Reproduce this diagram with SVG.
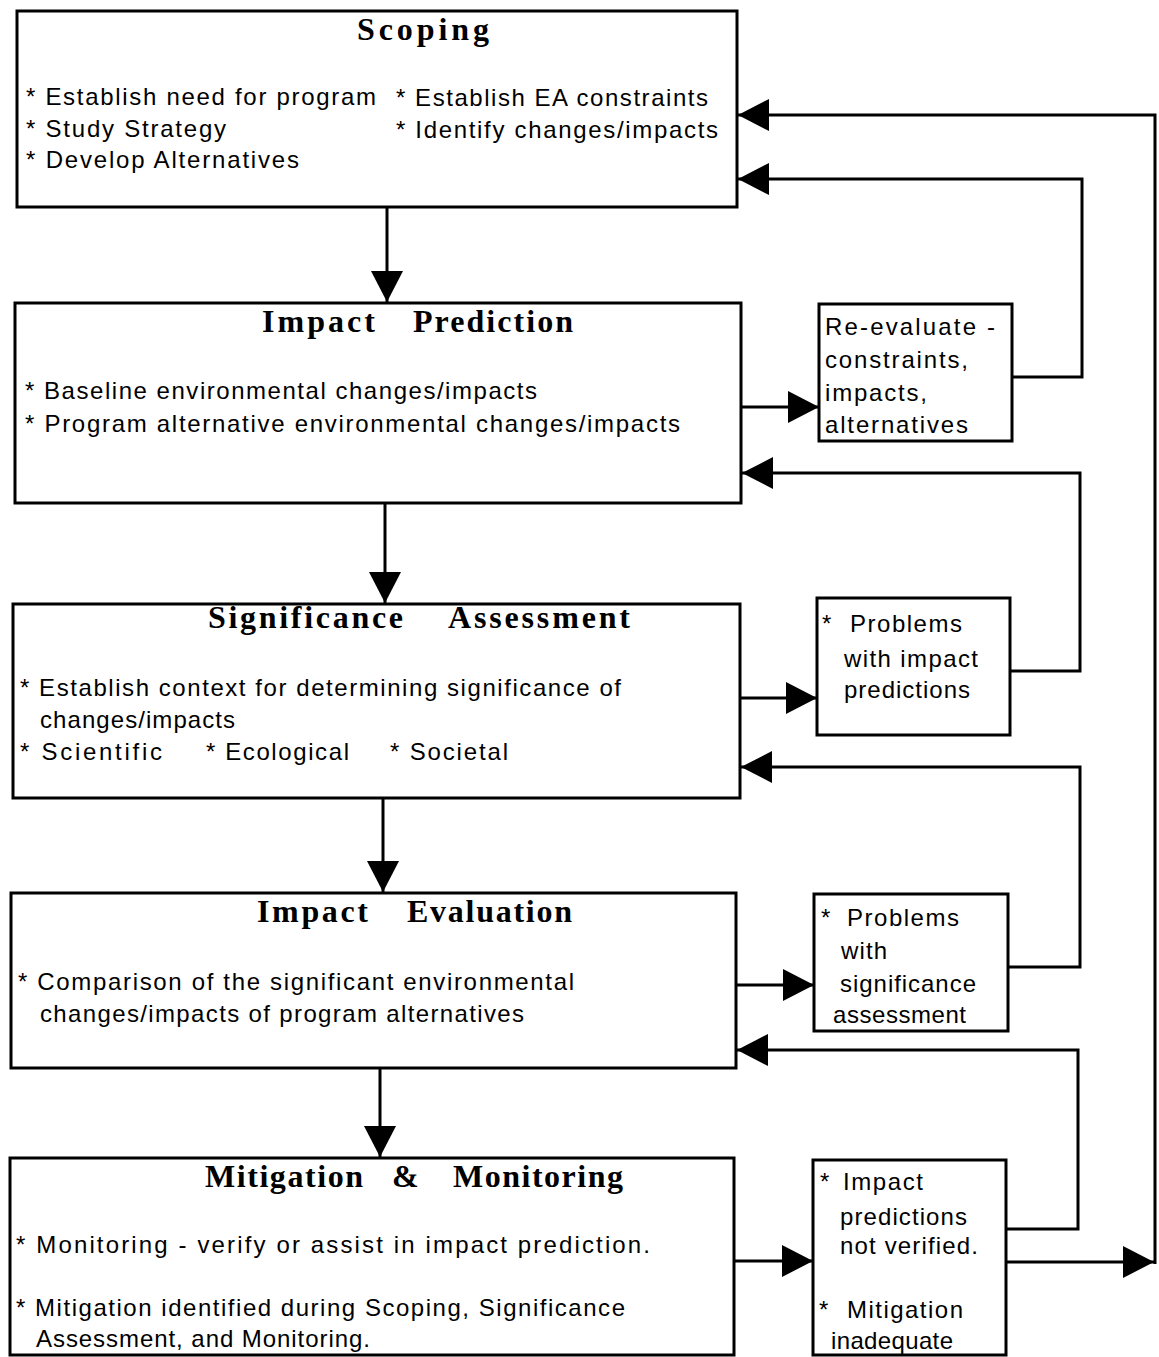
<svg xmlns="http://www.w3.org/2000/svg" width="1159" height="1357" viewBox="0 0 1159 1357">
<style>
.box{fill:#fff;stroke:#000;stroke-width:3}
.t{font-family:"Liberation Serif","Times New Roman",serif;font-weight:bold;font-size:32px;fill:#000}
.b{font-family:"Liberation Sans",Arial,sans-serif;font-size:24px;fill:#000}
.c{fill:none;stroke:#000;stroke-width:3}
</style>
<defs>
<marker id="ah" markerUnits="userSpaceOnUse" markerWidth="34" markerHeight="34" refX="31" refY="16" orient="auto">
<path d="M0,0 L31,16 L0,32 Z" fill="#000"/>
</marker>
</defs>
<rect width="1159" height="1357" fill="#fff"/>

<g id="connectors">
<line class="c" x1="387" y1="207" x2="387" y2="302" marker-end="url(#ah)"/>
<line class="c" x1="385" y1="503" x2="385" y2="603" marker-end="url(#ah)"/>
<line class="c" x1="383" y1="798" x2="383" y2="892" marker-end="url(#ah)"/>
<line class="c" x1="380" y1="1068" x2="380" y2="1157" marker-end="url(#ah)"/>
<line class="c" x1="737" y1="407" x2="819" y2="407" marker-end="url(#ah)"/>
<path class="c" d="M1012,377 H1082 V179 H738" marker-end="url(#ah)"/>
<line class="c" x1="740" y1="698" x2="817" y2="698" marker-end="url(#ah)"/>
<path class="c" d="M1010,671 H1080 V473 H742" marker-end="url(#ah)"/>
<line class="c" x1="736" y1="985" x2="814" y2="985" marker-end="url(#ah)"/>
<path class="c" d="M1004,967 H1080 V767 H741" marker-end="url(#ah)"/>
<line class="c" x1="734" y1="1261" x2="813" y2="1261" marker-end="url(#ah)"/>
<path class="c" d="M1006,1229 H1078 V1050 H737" marker-end="url(#ah)"/>
<line class="c" x1="1006" y1="1262" x2="1154" y2="1262" marker-end="url(#ah)"/>
<path class="c" d="M1155,1264 V115 H738" marker-end="url(#ah)"/>
</g>

<g id="scoping">
<rect class="box" x="17" y="11" width="720" height="196"/>
<text class="t" x="357" y="40" textLength="132" lengthAdjust="spacing">Scoping</text>
<text class="b" x="26" y="105" textLength="350" lengthAdjust="spacing">* Establish need for program</text>
<text class="b" x="26" y="137" textLength="200" lengthAdjust="spacing">* Study Strategy</text>
<text class="b" x="26" y="168" textLength="273" lengthAdjust="spacing">* Develop Alternatives</text>
<text class="b" x="396" y="106" textLength="312" lengthAdjust="spacing">* Establish EA constraints</text>
<text class="b" x="396" y="138" textLength="322" lengthAdjust="spacing">* Identify changes/impacts</text>
</g>

<g id="impact-prediction">
<rect class="box" x="15" y="303" width="726" height="200"/>
<text class="t" y="332"><tspan x="262" textLength="113" lengthAdjust="spacing">Impact</tspan><tspan x="413" textLength="160" lengthAdjust="spacing">Prediction</tspan></text>
<text class="b" x="25" y="399" textLength="512" lengthAdjust="spacing">* Baseline environmental changes/impacts</text>
<text class="b" x="25" y="432" textLength="655" lengthAdjust="spacing">* Program alternative environmental changes/impacts</text>
</g>

<g id="significance-assessment">
<rect class="box" x="13" y="604" width="727" height="194"/>
<text class="t" y="628"><tspan x="208" textLength="195" lengthAdjust="spacing">Significance</tspan><tspan x="448" textLength="182" lengthAdjust="spacing">Assessment</tspan></text>
<text class="b" x="20" y="696" textLength="601" lengthAdjust="spacing">* Establish context for determining significance of</text>
<text class="b" x="40" y="728" textLength="195" lengthAdjust="spacing">changes/impacts</text>
<text class="b" x="20" y="760" textLength="142" lengthAdjust="spacing">*  Scientific</text>
<text class="b" x="206" y="760" textLength="143" lengthAdjust="spacing">* Ecological</text>
<text class="b" x="390" y="760" textLength="118" lengthAdjust="spacing">* Societal</text>
</g>

<g id="impact-evaluation">
<rect class="box" x="11" y="893" width="725" height="175"/>
<text class="t" y="922"><tspan x="257" textLength="111" lengthAdjust="spacing">Impact</tspan><tspan x="407" textLength="165" lengthAdjust="spacing">Evaluation</tspan></text>
<text class="b" x="18" y="990" textLength="556" lengthAdjust="spacing">* Comparison of the significant environmental</text>
<text class="b" x="40" y="1022" textLength="484" lengthAdjust="spacing">changes/impacts of program alternatives</text>
</g>

<g id="mitigation-monitoring">
<rect class="box" x="10" y="1158" width="724" height="197"/>
<text class="t" y="1187"><tspan x="205" textLength="158" lengthAdjust="spacing">Mitigation</tspan><tspan x="392">&amp;</tspan><tspan x="453" textLength="170" lengthAdjust="spacing">Monitoring</tspan></text>
<text class="b" x="16" y="1253" textLength="634" lengthAdjust="spacing">* Monitoring - verify or assist in impact prediction.</text>
<text class="b" x="16" y="1316" textLength="609" lengthAdjust="spacing">* Mitigation identified during Scoping, Significance</text>
<text class="b" x="36" y="1347" textLength="334" lengthAdjust="spacing">Assessment, and Monitoring.</text>
</g>

<g id="re-evaluate">
<rect class="box" x="819" y="304" width="193" height="137"/>
<text class="b" x="825" y="335" textLength="170" lengthAdjust="spacing">Re-evaluate  -</text>
<text class="b" x="825" y="368" textLength="143" lengthAdjust="spacing">constraints,</text>
<text class="b" x="825" y="401" textLength="102" lengthAdjust="spacing">impacts,</text>
<text class="b" x="825" y="433" textLength="143" lengthAdjust="spacing">alternatives</text>
</g>

<g id="problems-impact-predictions">
<rect class="box" x="817" y="598" width="193" height="137"/>
<text class="b" x="822" y="632">*</text>
<text class="b" x="850" y="632" textLength="112" lengthAdjust="spacing">Problems</text>
<text class="b" x="844" y="667" textLength="134" lengthAdjust="spacing">with impact</text>
<text class="b" x="844" y="698" textLength="126" lengthAdjust="spacing">predictions</text>
</g>

<g id="problems-significance">
<rect class="box" x="814" y="894" width="194" height="137"/>
<text class="b" x="821" y="926">*</text>
<text class="b" x="847" y="926" textLength="112" lengthAdjust="spacing">Problems</text>
<text class="b" x="841" y="959" textLength="46" lengthAdjust="spacing">with</text>
<text class="b" x="840" y="992" textLength="136" lengthAdjust="spacing">significance</text>
<text class="b" x="833" y="1023" textLength="133" lengthAdjust="spacing">assessment</text>
</g>

<g id="impact-not-verified">
<rect class="box" x="813" y="1160" width="193" height="195"/>
<text class="b" x="820" y="1190">*</text>
<text class="b" x="843" y="1190" textLength="80" lengthAdjust="spacing">Impact</text>
<text class="b" x="840" y="1225" textLength="127" lengthAdjust="spacing">predictions</text>
<text class="b" x="840" y="1254" textLength="138" lengthAdjust="spacing">not verified.</text>
<text class="b" x="819" y="1318">*</text>
<text class="b" x="847" y="1318" textLength="116" lengthAdjust="spacing">Mitigation</text>
<text class="b" x="831" y="1349" textLength="122" lengthAdjust="spacing">inadequate</text>
</g>
</svg>
